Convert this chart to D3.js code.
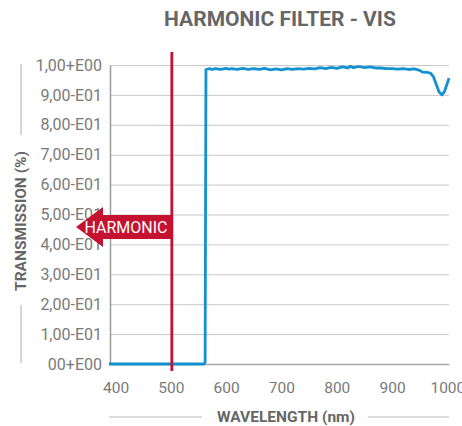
<!DOCTYPE html>
<html>
<head>
<meta charset="utf-8">
<script src="https://cdn.jsdelivr.net/npm/d3@7/dist/d3.min.js"></script>
<style>
  html, body { margin: 0; padding: 0; background: #fff; }
  svg { display: block; }
  text { font-family: Roboto, "Noto Sans", sans-serif; }
</style>
</head>
<body>
<svg id="chart" width="462" height="426"></svg>
<script>
// ---- data ----
const wavelengths = [388, 560, 562, 563.5, 570, 575, 580, 590, 600, 605, 610, 620, 630, 640, 650, 660, 670, 680, 690, 700,
  710, 720, 730, 740, 750, 760, 770, 780, 790, 800, 810, 820, 825, 830, 840, 850, 860, 870, 880, 890, 900,
  910, 920, 930, 940, 950, 955, 965, 970, 975, 980, 985, 990, 995, 1000, 1003];
const transmission = [0, 0, 0.005, 0.985, 0.988, 0.985, 0.988, 0.985, 0.989, 0.986, 0.988, 0.985, 0.989, 0.985, 0.988, 0.985, 0.989, 0.984, 0.987, 0.984,
  0.988, 0.985, 0.988, 0.986, 0.989, 0.987, 0.991, 0.988, 0.992, 0.989, 0.994, 0.990, 0.996, 0.991, 0.995, 0.991, 0.994, 0.990, 0.990, 0.988, 0.988,
  0.986, 0.988, 0.985, 0.987, 0.982, 0.976, 0.975, 0.972, 0.960, 0.935, 0.910, 0.900, 0.912, 0.940, 0.956];
const yTickValues = [0, 0.1, 0.2, 0.3, 0.4, 0.5, 0.6, 0.7, 0.8, 0.9, 1.0];
const yTickLabels = ["00+E00", "1,00-E01", "2,00-E01", "3,00-E01", "4,00-E01", "5,00-E01", "6,00-E01", "7,00-E01", "8,00-E01", "9,00-E01", "1,00+E00"];
const xTickValues = [400, 500, 600, 700, 800, 900, 1000];
const xTickLabels = ["400", "500", "600", "700", "800", "900", "1000"];
const harmonicWavelength = 500;
const harmonicLabel = "HARMONIC";
const chartTitle = "HARMONIC FILTER - VIS";
const xTitle = "WAVELENGTH (nm)";
const yTitle = "TRANSMISSION (%)";

// ---- layout ----
const svg = d3.select("#chart");
const mLeft = 110, mRight = 449, mTop = 65, mBottom = 364;
const x = d3.scaleLinear().domain([390, 1003]).range([mLeft, mRight]);
const y = d3.scaleLinear().domain([0, 1]).range([mBottom, mTop]);

const gray = "#7a7a7a";
const dark = "#666";
const red = "#c41230";
const blue = "#1391d0";

// title
svg.append("text")
  .attr("x", 280).attr("y", 26)
  .attr("text-anchor", "middle")
  .attr("font-size", 21).attr("font-weight", 700)
  .attr("fill", dark)
  .text(chartTitle);

// gridlines
svg.append("g")
  .attr("transform", `translate(${mLeft},0)`)
  .call(d3.axisRight(y).tickValues(yTickValues).tickSize(mRight - mLeft).tickFormat(""))
  .call(g => g.select(".domain").remove())
  .call(g => g.selectAll(".tick line").attr("stroke", "#c9c9c9").attr("stroke-width", 1));

// y axis
svg.append("g")
  .attr("transform", `translate(${mLeft},0)`)
  .call(d3.axisLeft(y).tickValues(yTickValues).tickSize(0).tickPadding(8)
    .tickFormat((d, i) => yTickLabels[i]))
  .call(g => g.select(".domain").attr("stroke", "#9a9a9a").attr("stroke-width", 1.5))
  .call(g => g.selectAll(".tick text")
    .attr("fill", gray).attr("font-size", 16).attr("font-family", "Roboto, sans-serif"));

// x axis
svg.append("g")
  .attr("transform", `translate(0,${mBottom})`)
  .call(d3.axisBottom(x).tickValues(xTickValues).tickSize(0).tickPadding(18)
    .tickFormat((d, i) => xTickLabels[i]))
  .call(g => g.select(".domain").attr("stroke", "#a8a8a8").attr("stroke-width", 1.5))
  .call(g => g.selectAll(".tick text")
    .attr("fill", gray).attr("font-size", 15.5).attr("font-family", "Roboto, sans-serif"));

// data line
const pts = wavelengths.map((w, i) => [w, transmission[i]]);
svg.append("path")
  .datum(pts)
  .attr("fill", "none")
  .attr("stroke", blue)
  .attr("stroke-width", 2.8)
  .attr("stroke-linejoin", "round")
  .attr("d", d3.line().x(d => x(d[0])).y(d => y(d[1])));

// harmonic marker line
const hx = x(harmonicWavelength) + 1;
svg.append("line")
  .attr("x1", hx).attr("x2", hx)
  .attr("y1", 52).attr("y2", 371)
  .attr("stroke", red).attr("stroke-width", 2.8);

// flag
const fy = 227;
svg.append("path")
  .attr("d", `M76,${fy} L103,${fy - 20} L103,${fy - 12} L${hx},${fy - 12} L${hx},${fy + 12} L103,${fy + 12} L103,${fy + 20} Z`)
  .attr("fill", red);
svg.append("text")
  .attr("x", 126).attr("y", fy + 6)
  .attr("text-anchor", "middle")
  .attr("font-size", 16)
  .attr("fill", "#fff")
  .text(harmonicLabel);

// y title with side rules
svg.append("text")
  .attr("transform", "translate(26,221) rotate(-90)")
  .attr("text-anchor", "middle")
  .attr("font-size", 15.5).attr("font-weight", 700)
  .attr("fill", dark)
  .text(yTitle);
svg.append("line").attr("x1", 21).attr("x2", 21).attr("y1", 64).attr("y2", 135)
  .attr("stroke", "#bbb").attr("stroke-width", 1.2);
svg.append("line").attr("x1", 21).attr("x2", 21).attr("y1", 305).attr("y2", 363)
  .attr("stroke", "#bbb").attr("stroke-width", 1.2);

// x title with side rules
svg.append("text")
  .attr("x", 286).attr("y", 422)
  .attr("text-anchor", "middle")
  .attr("font-size", 15.5).attr("font-weight", 700)
  .attr("fill", dark)
  .text(xTitle);
svg.append("line").attr("x1", 109).attr("x2", 202).attr("y1", 417).attr("y2", 417)
  .attr("stroke", "#bbb").attr("stroke-width", 1.2);
svg.append("line").attr("x1", 368).attr("x2", 449).attr("y1", 417).attr("y2", 417)
  .attr("stroke", "#bbb").attr("stroke-width", 1.2);
</script>
</body>
</html>
